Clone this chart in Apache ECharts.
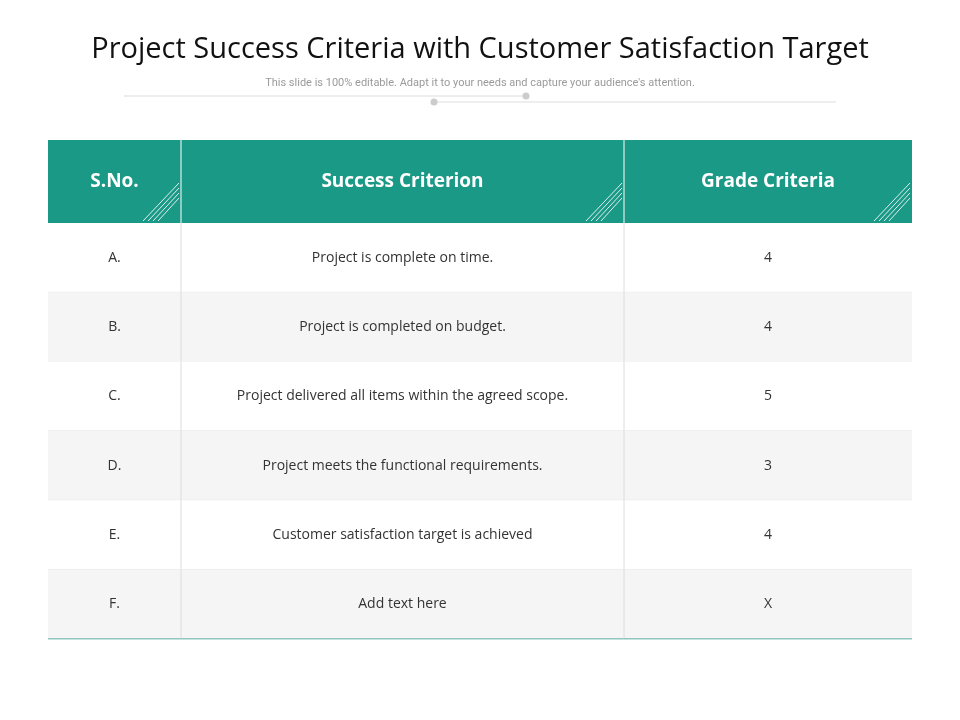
<!DOCTYPE html>
<html>
<head>
<meta charset="utf-8">
<script src="https://cdn.jsdelivr.net/npm/echarts@6/dist/echarts.min.js"></script>
<style>html,body{margin:0;padding:0;background:#fff}#main{width:960px;height:720px}</style>
</head>
<body>
<div id="main"></div>
<script>
var headers = ['S.No.', 'Success Criterion', 'Grade Criteria'];
var serials = ['A.', 'B.', 'C.', 'D.', 'E.', 'F.'];
var criteria = [
    'Project is complete on time.',
    'Project is completed on budget.',
    'Project delivered all items within the agreed scope.',
    'Project meets the functional requirements.',
    'Customer satisfaction target is achieved',
    'Add text here'
];
var grades = ['4', '4', '5', '3', '4', 'X'];

// table geometry in axis units (one unit ~ one pixel)
var colEdges = [0, 133, 576, 864];
var headH = 83;
var rowH = 69.3;
var totalH = headH + rowH * serials.length;

var cells = [];
headers.forEach(function (h, c) { cells.push([c, -1, h]); });
serials.forEach(function (s, r) {
    cells.push([0, r, s]);
    cells.push([1, r, criteria[r]]);
    cells.push([2, r, grades[r]]);
});

function renderCell(params, api) {
    var c = api.value(0), r = api.value(1);
    var text = cells[params.dataIndex][2];
    var y0 = r < 0 ? 0 : headH + r * rowH;
    var y1 = r < 0 ? headH : y0 + rowH;
    var p0 = api.coord([colEdges[c], y0]);
    var p1 = api.coord([colEdges[c + 1], y1]);
    var x = p0[0], y = p0[1], w = p1[0] - p0[0], h = p1[1] - p0[1];
    var children = [];
    var fill = r < 0 ? '#1a9987' : (r % 2 === 1 ? '#f5f5f5' : '#ffffff');
    children.push({ type: 'rect', shape: { x: x, y: y, width: w, height: h }, style: { fill: fill } });
    if (c > 0) {
        children.push({ type: 'line', shape: { x1: x, y1: y, x2: x, y2: y + h },
            style: { stroke: r < 0 ? '#ffffff' : '#dcdcdc', lineWidth: 1 } });
    }
    if (r < 0) {
        for (var k = 0; k < 4; k++) {
            var o = k * 5;
            children.push({ type: 'line', shape: { x1: x + w - 2, y1: y + h - 40 + o, x2: x + w - 38 + o, y2: y + h - 2 },
                style: { stroke: '#ffffff', lineWidth: 1, opacity: 0.85 } });
        }
    } else {
        children.push({ type: 'line', shape: { x1: x, y1: y + h, x2: x + w, y2: y + h },
            style: { stroke: r === serials.length - 1 ? '#8fc7c0' : '#e6e6e6', lineWidth: r === serials.length - 1 ? 1.5 : 1 } });
    }
    children.push({ type: 'text', style: {
        x: x + w / 2, y: y + h / 2, text: text, align: 'center', verticalAlign: 'middle',
        fill: r < 0 ? '#ffffff' : '#333333',
        font: r < 0 ? 'bold 19px "Open Sans", sans-serif' : '14px "Open Sans", sans-serif'
    } });
    return { type: 'group', children: children };
}

var myChart = echarts.init(document.getElementById('main'));
var option = {
    backgroundColor: '#ffffff',
    animation: false,
    title: [{
        text: 'Project Success Criteria with Customer Satisfaction Target',
        left: 'center', top: 30,
        textStyle: { fontFamily: 'Open Sans', fontSize: 29, fontWeight: 'normal', color: '#111111' }
    }, {
        text: "This slide is 100% editable. Adapt it to your needs and capture your audience's attention.",
        left: 'center', top: 73,
        textStyle: { fontFamily: 'Roboto', fontSize: 11, fontWeight: 'normal', color: '#9a9a9a' }
    }],
    graphic: [
        { type: 'line', shape: { x1: 124, y1: 96, x2: 526, y2: 96 }, style: { stroke: '#dddddd' } },
        { type: 'line', shape: { x1: 434, y1: 102, x2: 836, y2: 102 }, style: { stroke: '#dddddd' } },
        { type: 'circle', shape: { cx: 434, cy: 102, r: 3.5 }, style: { fill: '#cccccc' } },
        { type: 'circle', shape: { cx: 526, cy: 96, r: 3.5 }, style: { fill: '#cccccc' } }
    ],
    grid: { left: 48, right: 48, top: 140, bottom: 720 - 140 - totalH },
    xAxis: { type: 'value', min: 0, max: colEdges[colEdges.length - 1], show: false },
    yAxis: { type: 'value', min: 0, max: totalH, inverse: true, show: false },
    series: [{
        type: 'custom',
        renderItem: renderCell,
        data: cells.map(function (d) { return [d[0], d[1]]; })
    }]
};
myChart.setOption(option);
</script>
</body>
</html>
